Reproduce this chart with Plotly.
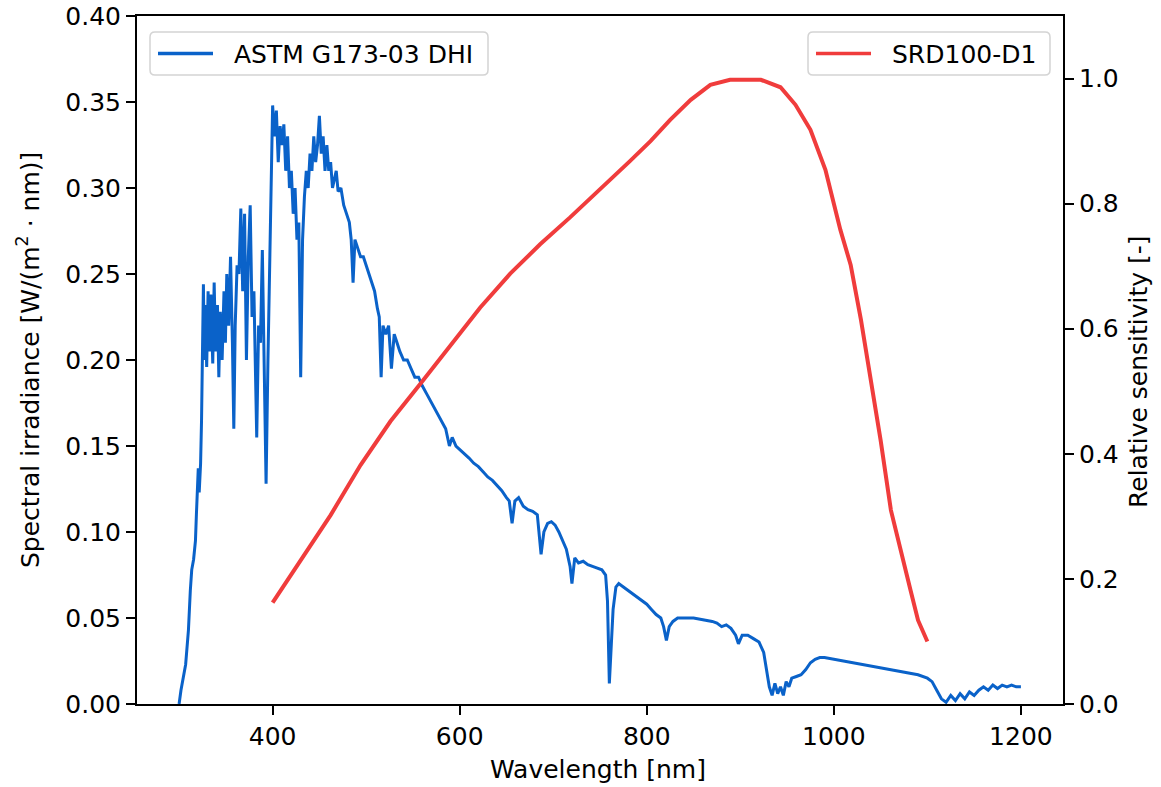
import plotly.graph_objects as go

# ASTM G173-03 diffuse (DHI) spectrum
wl_dhi = [300, 302, 307, 310, 312, 313.5, 315.5, 317.5, 318.5, 319.5, 320.5, 321.5, 323, 324, 326, 327, 328,
          329.5, 331, 332.5, 334, 336, 337.5, 339, 341, 342.5, 344, 346, 348, 349.5, 351, 353, 355, 357, 358.5,
          360, 362, 364, 366, 368, 370, 372, 374, 376, 378, 380, 381.5, 383, 385, 387, 389, 391, 393, 395, 397,
          398.5, 400, 402, 404, 406, 408, 410, 412, 414, 416, 418, 420, 422, 424, 426, 428, 430, 432, 434, 436,
          438, 440, 442, 444, 446, 448, 450, 452, 454, 456, 458, 460, 462, 464, 466, 468, 470, 473, 476, 479,
          482, 484, 486, 488, 491, 494, 497, 500, 503, 506, 509, 512, 514, 516, 518, 521, 524, 527, 530, 533,
          536, 540, 544, 548, 552, 556, 560, 565, 570, 575, 580, 585, 589, 592, 596, 600, 605, 610, 615, 620,
          625, 630, 635, 640, 645, 650, 653, 656, 659, 663, 668, 673, 678, 683, 687, 690, 694, 698, 702, 706,
          710, 714, 718, 720, 723, 727, 732, 737, 742, 747, 752, 756, 758, 760, 762, 764, 767, 770, 775, 780,
          785, 790, 795, 800, 805, 810, 815, 818, 821, 824, 828, 833, 840, 850, 860, 870, 875, 880, 885, 890,
          895, 898, 902, 908, 914, 920, 925, 928, 931, 934, 937, 940, 943, 946, 949, 952, 955, 960, 965, 970,
          975, 980, 985, 990, 1000, 1010, 1020, 1030, 1040, 1050, 1060, 1070, 1080, 1090, 1100, 1105, 1110,
          1115, 1120, 1125, 1130, 1135, 1140, 1145, 1150, 1155, 1160, 1165, 1170, 1175, 1180, 1185, 1190,
          1195, 1200]
dhi = [0.0, 0.008, 0.023, 0.043, 0.066, 0.078, 0.084, 0.095, 0.11, 0.124, 0.137, 0.123, 0.14, 0.165, 0.244,
       0.2, 0.232, 0.196, 0.24, 0.205, 0.238, 0.198, 0.245, 0.205, 0.232, 0.19, 0.228, 0.2, 0.24, 0.21, 0.25,
       0.22, 0.26, 0.21, 0.16, 0.22, 0.255, 0.25, 0.288, 0.24, 0.285, 0.2, 0.26, 0.29, 0.225, 0.24, 0.185,
       0.155, 0.22, 0.21, 0.264, 0.2, 0.128, 0.2, 0.26, 0.32, 0.348, 0.33, 0.345, 0.315, 0.336, 0.325, 0.337,
       0.31, 0.33, 0.3, 0.31, 0.285, 0.3, 0.27, 0.28, 0.19, 0.27, 0.295, 0.31, 0.3, 0.32, 0.31, 0.33, 0.315,
       0.325, 0.342, 0.32, 0.33, 0.31, 0.325, 0.31, 0.315, 0.3, 0.305, 0.31, 0.298, 0.3, 0.29, 0.285, 0.28,
       0.27, 0.245, 0.27, 0.265, 0.26, 0.26, 0.255, 0.25, 0.245, 0.24, 0.23, 0.225, 0.19, 0.22, 0.215, 0.22,
       0.195, 0.215, 0.21, 0.205, 0.2, 0.2, 0.195, 0.19, 0.19, 0.185, 0.18, 0.175, 0.17, 0.165, 0.16, 0.15,
       0.155, 0.15, 0.148, 0.146, 0.143, 0.14, 0.138, 0.135, 0.132, 0.13, 0.127, 0.124, 0.12, 0.118, 0.105,
       0.118, 0.12, 0.115, 0.113, 0.112, 0.11, 0.087, 0.1, 0.105, 0.106, 0.104, 0.1, 0.095, 0.09, 0.08, 0.07,
       0.085, 0.082, 0.083, 0.081, 0.08, 0.079, 0.078, 0.075, 0.06, 0.012, 0.03, 0.055, 0.068, 0.07, 0.068,
       0.066, 0.064, 0.062, 0.06, 0.058, 0.055, 0.052, 0.05, 0.045, 0.037, 0.045, 0.048, 0.05, 0.05, 0.05,
       0.049, 0.048, 0.047, 0.045, 0.046, 0.044, 0.04, 0.035, 0.04, 0.04, 0.038, 0.036, 0.03, 0.02, 0.01,
       0.005, 0.012, 0.006, 0.01, 0.005, 0.013, 0.01, 0.015, 0.016, 0.017, 0.02, 0.024, 0.026, 0.027, 0.027,
       0.026, 0.025, 0.024, 0.023, 0.022, 0.021, 0.02, 0.019, 0.018, 0.017, 0.015, 0.013, 0.008, 0.003,
       0.001, 0.005, 0.002, 0.006, 0.003, 0.007, 0.005, 0.008, 0.01, 0.008, 0.011, 0.009, 0.011, 0.01,
       0.011, 0.01, 0.01]

# SRD100-D1 relative spectral sensitivity
wl_srd = [400, 430, 462, 494, 526, 558, 590, 622, 654, 686, 718, 750, 782, 804, 825, 847, 868, 889, 922,
          943, 959, 975, 991, 1007, 1018, 1029, 1040, 1050, 1061, 1072, 1082, 1090, 1100]
srd = [0.162, 0.23, 0.302, 0.382, 0.452, 0.512, 0.574, 0.634, 0.688, 0.735, 0.778, 0.822, 0.868, 0.9,
       0.934, 0.966, 0.99, 0.998, 0.998, 0.986, 0.958, 0.918, 0.854, 0.758, 0.702, 0.614, 0.518, 0.422,
       0.31, 0.246, 0.182, 0.134, 0.1]

x_ticks = [400, 600, 800, 1000, 1200]
y1_ticks = [0.0, 0.05, 0.10, 0.15, 0.20, 0.25, 0.30, 0.35, 0.40]
y2_ticks = [0.0, 0.2, 0.4, 0.6, 0.8, 1.0]

legend_names = ["ASTM G173-03 DHI", "SRD100-D1"]
colors = ["#0a62c9", "#f03c3c"]

FONT = "DejaVu Sans"
FS = 25

# plot area in pixels
L, R, T, B = 137, 1063, 16, 704
W, H = 1161, 787
PW, PH = R - L, B - T


def px(x):
    return (x - L) / PW


def py(y):
    return (B - y) / PH


fig = go.Figure()
fig.add_trace(go.Scatter(x=wl_dhi, y=dhi, mode="lines", name=legend_names[0], showlegend=False,
                         line=dict(color=colors[0], width=3)))
fig.add_trace(go.Scatter(x=wl_srd, y=srd, mode="lines", name=legend_names[1], yaxis="y2", showlegend=False,
                         line=dict(color=colors[1], width=4)))

axis_common = dict(showline=True, linecolor="black", linewidth=2, ticks="outside", ticklen=9,
                   tickwidth=2, tickcolor="black", showgrid=False, zeroline=False, automargin=False,
                   tickfont=dict(family=FONT, size=FS, color="black"))

shapes = []
annotations = []


def rounded_box(x0, y0, x1, y1, r=5):
    # pixel coords -> paper path with rounded corners
    rx, ry = r / PW, r / PH
    a0, a1 = px(x0), px(x1)
    b0, b1 = py(y1), py(y0)  # b0 bottom, b1 top
    path = (f"M {a0 + rx},{b0} L {a1 - rx},{b0} Q {a1},{b0} {a1},{b0 + ry} "
            f"L {a1},{b1 - ry} Q {a1},{b1} {a1 - rx},{b1} L {a0 + rx},{b1} "
            f"Q {a0},{b1} {a0},{b1 - ry} L {a0},{b0 + ry} Q {a0},{b0} {a0 + rx},{b0} Z")
    return dict(type="path", xref="paper", yref="paper", path=path,
                line=dict(color="#d4d4d4", width=1.5), fillcolor="rgba(255,255,255,0.8)", layer="above")


legend_boxes = [(150, 32, 488, 75), (808, 32, 1050, 75)]
for (x0, y0, x1, y1), name, col in zip(legend_boxes, legend_names, colors):
    shapes.append(rounded_box(x0, y0, x1, y1))
    ym = (y0 + y1) / 2
    shapes.append(dict(type="line", xref="paper", yref="paper", x0=px(x0 + 8), x1=px(x0 + 63),
                       y0=py(ym), y1=py(ym), line=dict(color=col, width=3.5), layer="above"))
    annotations.append(dict(text=name, xref="paper", yref="paper", x=px(x0 + 82), y=py(ym + 1),
                            xanchor="left", yanchor="middle", showarrow=False,
                            font=dict(family=FONT, size=FS, color="black")))

annotations.append(dict(text="Wavelength [nm]", xref="paper", yref="paper", x=px(598), y=py(769),
                        xanchor="center", yanchor="middle", showarrow=False,
                        font=dict(family=FONT, size=FS, color="black")))
annotations.append(dict(text="Spectral irradiance [W/(m<sup>2</sup> · nm)]", xref="paper", yref="paper",
                        x=px(28), y=py(360), xanchor="center", yanchor="middle", showarrow=False,
                        textangle=-90, font=dict(family=FONT, size=FS, color="black")))
annotations.append(dict(text="Relative sensitivity [-]", xref="paper", yref="paper",
                        x=px(1138), y=py(372), xanchor="center", yanchor="middle", showarrow=False,
                        textangle=-90, font=dict(family=FONT, size=FS, color="black")))

fig.update_layout(
    width=W, height=H,
    margin=dict(l=L, r=W - R, t=T, b=H - B, autoexpand=False),
    paper_bgcolor="white", plot_bgcolor="white",
    font=dict(family=FONT, size=FS, color="black"),
    showlegend=False,
    xaxis=dict(range=[255, 1245], tickvals=x_ticks, mirror=True, **axis_common),
    yaxis=dict(range=[0, 0.40], tickvals=y1_ticks, tickformat=".2f", **axis_common),
    yaxis2=dict(range=[0, 1.1], tickvals=y2_ticks, tickformat=".1f", overlaying="y", side="right",
                **axis_common),
    shapes=shapes,
    annotations=annotations,
)

fig.write_html("out.html", config={"displayModeBar": False},
               post_script="document.body.style.margin='0px';document.body.style.overflow='hidden';")
